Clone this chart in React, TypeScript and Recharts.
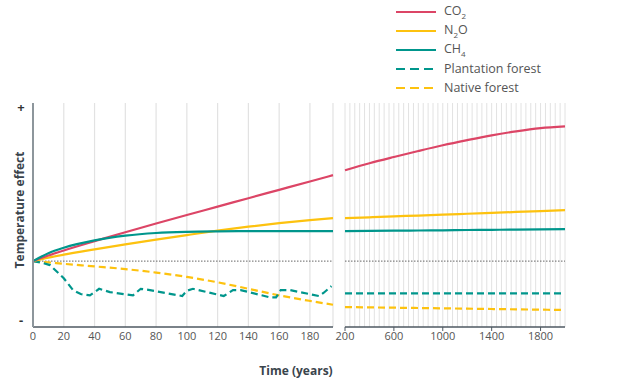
import React from "react"
import {
  LineChart,
  Line,
  XAxis,
  YAxis,
  CartesianGrid,
  ReferenceLine,
} from "recharts"

// left panel: first ~200 years
const leftYears = [0, 10, 20, 40, 60, 80, 100, 120, 140, 160, 180, 195]
const co2Left = [0, 0.085, 0.162, 0.303, 0.439, 0.571, 0.7, 0.827, 0.955, 1.082, 1.209, 1.305]
const n2oLeft = [0, 0.053, 0.098, 0.177, 0.253, 0.326, 0.395, 0.462, 0.523, 0.576, 0.621, 0.652]
const ch4Left = [0, 0.121, 0.203, 0.314, 0.386, 0.427, 0.445, 0.452, 0.455, 0.455, 0.455, 0.455]
const nativeLeft = [0, -0.02, -0.041, -0.08, -0.121, -0.174, -0.24, -0.322, -0.42, -0.52, -0.604, -0.662]

const plantationYears = [0, 5, 11, 20, 26, 31, 37, 43, 50, 65, 70, 76, 97, 100, 104, 124, 130, 135, 154, 158, 161, 167, 186, 189, 194]
const plantationLeft = [0, -0.02, -0.06, -0.26, -0.44, -0.5, -0.52, -0.42, -0.47, -0.52, -0.42, -0.44, -0.53, -0.45, -0.42, -0.53, -0.44, -0.44, -0.55, -0.55, -0.44, -0.44, -0.53, -0.48, -0.38]

// right panel: 200 - 2000 years
const rightYears = [200, 400, 600, 800, 1000, 1200, 1400, 1600, 1800, 2000]
const co2Right = [1.379, 1.485, 1.58, 1.671, 1.758, 1.836, 1.909, 1.97, 2.018, 2.045]
const n2oRight = [0.652, 0.665, 0.679, 0.692, 0.706, 0.719, 0.732, 0.746, 0.759, 0.773]
const ch4Right = [0.455, 0.458, 0.462, 0.465, 0.468, 0.472, 0.475, 0.478, 0.482, 0.485]
const plantationRight = [-0.49, -0.49, -0.49, -0.49, -0.49, -0.49, -0.49, -0.49, -0.49, -0.49]
const nativeRight = [-0.697, -0.702, -0.707, -0.712, -0.717, -0.722, -0.727, -0.732, -0.737, -0.742]

const leftTicks = [0, 20, 40, 60, 80, 100, 120, 140, 160, 180]
const rightTicks = [200, 600, 1000, 1400, 1800]
const yTicks = [-0.89, 2.34]
const yTickLabels = ["-", "+"]

const RED = "#dc4566"
const YELLOW = "#fdc20f"
const TEAL = "#00968c"
const GRID = "#e2e2e2"
const AXIS = "#4e5962"
const FONT = "'Open Sans', sans-serif"
const LW = 2.2

const leftData = leftYears.map((year, i) => ({
  year,
  co2: co2Left[i],
  n2o: n2oLeft[i],
  ch4: ch4Left[i],
  native: nativeLeft[i],
}))
const plantationData = plantationYears.map((year, i) => ({ year, plantation: plantationLeft[i] }))
const rightData = rightYears.map((year, i) => ({
  year,
  co2: co2Right[i],
  n2o: n2oRight[i],
  ch4: ch4Right[i],
  plantation: plantationRight[i],
  native: nativeRight[i],
}))
const rightGrid = Array.from({ length: 46 }, (_, i) => 200 + i * 40)

const legendItems = [
  { label: ["CO", "2", ""], color: RED, dashed: false },
  { label: ["N", "2", "O"], color: YELLOW, dashed: false },
  { label: ["CH", "4", ""], color: TEAL, dashed: false },
  { label: ["Plantation forest", "", ""], color: TEAL, dashed: true },
  { label: ["Native forest", "", ""], color: YELLOW, dashed: true },
]

const tickStyle = { fill: "#555", fontSize: 11, fontFamily: FONT }

function SignTick(props: any) {
  const { x, y, payload } = props
  const idx = yTicks.indexOf(payload.value)
  return (
    <text x={x} y={y} textAnchor="middle" dominantBaseline="central" fill="#333" fontSize={13} fontWeight={700} fontFamily={FONT}>
      {yTickLabels[idx]}
    </text>
  )
}

export default function App() {
  return (
    <div style={{ position: "absolute", left: 0, top: 0, width: 623, height: 390, background: "#fff", fontFamily: FONT }}>
      <div style={{ position: "absolute", left: 0, top: 0 }}>
        <LineChart width={340} height={390} data={leftData} margin={{ top: 103, right: 7, bottom: 33, left: 0 }}>
          <CartesianGrid horizontal={false} stroke={GRID} strokeWidth={1.2} />
          <XAxis
            dataKey="year"
            type="number"
            domain={[0, 195]}
            ticks={leftTicks}
            interval={0}
            height={30}
            tickLine={false}
            tickSize={3}
            tick={tickStyle}
            axisLine={{ stroke: AXIS, strokeWidth: 1.5 }}
          />
          <YAxis
            type="number"
            domain={[-1, 2.4]}
            ticks={yTicks}
            interval={0}
            width={33}
            tickLine={false}
            tickSize={0}
            tickMargin={12}
            tick={<SignTick />}
            axisLine={{ stroke: "#8d969c", strokeWidth: 2 }}
          />
          <ReferenceLine y={0} stroke="#666" strokeWidth={1} strokeDasharray="1.5 1.5" />
          <Line dataKey="native" stroke={YELLOW} strokeWidth={LW} strokeDasharray="7 4" dot={false} type="monotone" isAnimationActive={false} />
          <Line data={plantationData} dataKey="plantation" stroke={TEAL} strokeWidth={LW} strokeDasharray="7 4" dot={false} type="linear" isAnimationActive={false} />
          <Line dataKey="n2o" stroke={YELLOW} strokeWidth={LW} dot={false} type="monotone" isAnimationActive={false} />
          <Line dataKey="co2" stroke={RED} strokeWidth={LW} dot={false} type="monotone" isAnimationActive={false} />
          <Line dataKey="ch4" stroke={TEAL} strokeWidth={LW} dot={false} type="monotone" isAnimationActive={false} />
        </LineChart>
      </div>

      <div style={{ position: "absolute", left: 330, top: 0 }}>
        <LineChart width={293} height={390} data={rightData} margin={{ top: 103, right: 58, bottom: 33, left: 15 }}>
          {rightGrid.map((g) => (
            <ReferenceLine key={g} x={g} stroke={GRID} strokeWidth={1} />
          ))}
          <XAxis
            dataKey="year"
            type="number"
            domain={[200, 2000]}
            ticks={rightTicks}
            interval={0}
            height={30}
            tickSize={4}
            tickMargin={1}
            tick={tickStyle}
            tickLine={{ stroke: AXIS }}
            axisLine={{ stroke: AXIS, strokeWidth: 1.5 }}
          />
          <YAxis type="number" domain={[-1, 2.4]} hide />
          <ReferenceLine y={0} stroke="#666" strokeWidth={1} strokeDasharray="1.5 1.5" />
          <Line dataKey="native" stroke={YELLOW} strokeWidth={LW} strokeDasharray="7 4" dot={false} type="monotone" isAnimationActive={false} />
          <Line dataKey="plantation" stroke={TEAL} strokeWidth={LW} strokeDasharray="7 4" dot={false} type="monotone" isAnimationActive={false} />
          <Line dataKey="n2o" stroke={YELLOW} strokeWidth={LW} dot={false} type="monotone" isAnimationActive={false} />
          <Line dataKey="co2" stroke={RED} strokeWidth={LW} dot={false} type="monotone" isAnimationActive={false} />
          <Line dataKey="ch4" stroke={TEAL} strokeWidth={LW} dot={false} type="monotone" isAnimationActive={false} />
        </LineChart>
      </div>

      <div
        style={{
          position: "absolute",
          left: 19,
          top: 210,
          transform: "translate(-50%, -50%) rotate(-90deg)",
          whiteSpace: "nowrap",
          fontSize: 12,
          fontWeight: 700,
          color: "#3a444c",
        }}
      >
        Temperature effect
      </div>
      <div
        style={{
          position: "absolute",
          left: 296,
          top: 370,
          transform: "translate(-50%, -50%)",
          whiteSpace: "nowrap",
          fontSize: 12,
          fontWeight: 700,
          color: "#3a444c",
        }}
      >
        Time (years)
      </div>

      <div style={{ position: "absolute", left: 396, top: 2 }}>
        {legendItems.map((item, i) => (
          <div key={i} style={{ display: "flex", alignItems: "center", height: 19 }}>
            <svg width={40} height={4}>
              <line x1={0} y1={2} x2={40} y2={2} stroke={item.color} strokeWidth={2} strokeDasharray={item.dashed ? "9 5" : undefined} />
            </svg>
            <span style={{ marginLeft: 8, fontSize: 12.5, color: "#555", whiteSpace: "nowrap" }}>
              {item.label[0]}
              {item.label[1] && <sub style={{ fontSize: 8 }}>{item.label[1]}</sub>}
              {item.label[2]}
            </span>
          </div>
        ))}
      </div>
    </div>
  )
}
